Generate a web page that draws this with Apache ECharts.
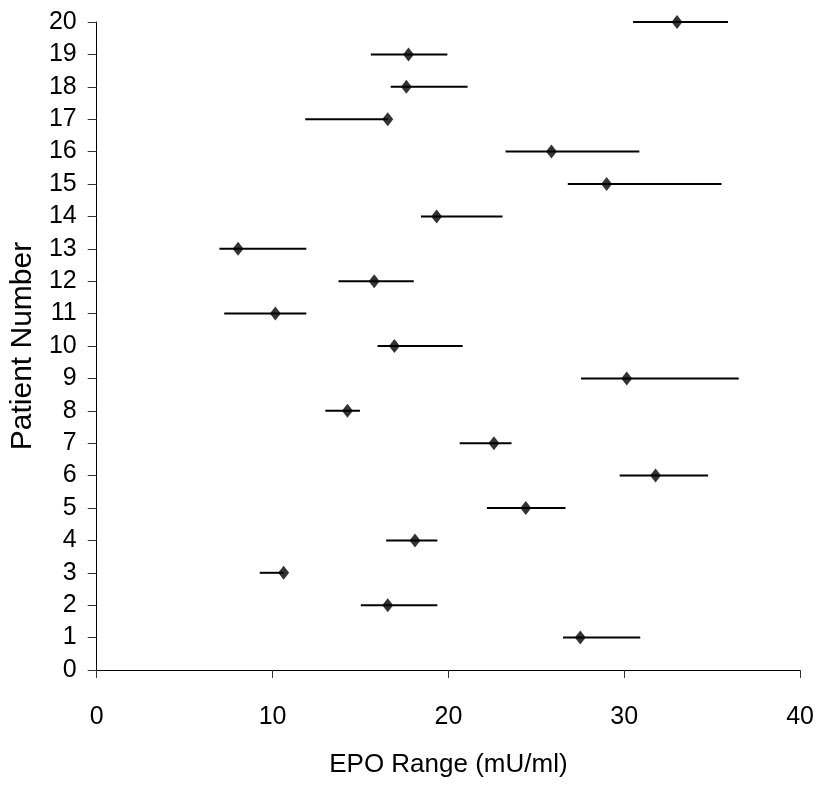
<!DOCTYPE html>
<html>
<head>
<meta charset="utf-8">
<script src="https://cdn.jsdelivr.net/npm/echarts@6/dist/echarts.min.js"></script>
<style>
html,body{margin:0;padding:0;background:#fff;}
#chart{width:817px;height:789px;}
</style>
</head>
<body>
<div id="chart"></div>
<script>
var patients = [1,2,3,4,5,6,7,8,9,10,11,12,13,14,15,16,17,18,19,20];
var epoMean  = [27.5,16.55,10.63,18.1,24.4,31.78,22.59,14.26,30.14,16.93,10.16,15.78,8.04,19.33,29.0,25.86,16.55,17.61,17.73,33.0];
var epoLow   = [26.52,15.02,9.27,16.46,22.19,29.74,20.64,13.0,27.54,15.97,7.25,13.75,6.98,18.44,26.79,23.25,11.86,16.72,15.59,30.5];
var epoHigh  = [30.91,19.37,10.63,19.37,26.66,34.77,23.59,14.97,36.51,20.81,11.92,18.03,11.92,23.08,35.53,30.86,16.55,21.09,19.94,35.9];
var xTicks = {min: 0, max: 40, interval: 10};
var yTicks = {min: 0, max: 20, interval: 1};

var rangeData = patients.map(function (p, i) { return [epoLow[i], epoHigh[i], p]; });
var meanData = patients.map(function (p, i) { return [epoMean[i], p]; });

var FONT = "'Liberation Sans', Arial, sans-serif";
var chart = echarts.init(document.getElementById('chart'), null, {renderer: 'canvas'});
chart.setOption({
  animation: false,
  backgroundColor: '#ffffff',
  grid: {left: 96, top: 22, width: 705, height: 648, containLabel: false},
  xAxis: {
    type: 'value', min: xTicks.min, max: xTicks.max, interval: xTicks.interval,
    name: 'EPO Range (mU/ml)', nameLocation: 'middle', nameGap: 82,
    nameTextStyle: {fontFamily: FONT, fontSize: 26, color: '#000'},
    axisLine: {show: true, onZero: false, lineStyle: {color: '#000', width: 1}},
    axisTick: {show: true, length: 8, lineStyle: {color: '#333'}},
    axisLabel: {margin: 35, fontFamily: FONT, fontSize: 25, color: '#000'},
    splitLine: {show: false}
  },
  yAxis: {
    type: 'value', min: yTicks.min, max: yTicks.max, interval: yTicks.interval,
    name: 'Patient Number', nameLocation: 'middle', nameGap: 56, nameRotate: 90,
    nameTextStyle: {fontFamily: FONT, fontSize: 30, color: '#000'},
    axisLine: {show: true, onZero: false, lineStyle: {color: '#000', width: 1}},
    axisTick: {show: true, length: 9, lineStyle: {color: '#333'}},
    axisLabel: {margin: 20, fontFamily: FONT, fontSize: 25, color: '#000'},
    splitLine: {show: false}
  },
  series: [
    {
      type: 'custom',
      data: rangeData,
      encode: {x: [0, 1], y: 2},
      renderItem: function (params, api) {
        var a = api.coord([api.value(0), api.value(2)]);
        var b = api.coord([api.value(1), api.value(2)]);
        return {
          type: 'line',
          shape: {x1: a[0], y1: a[1], x2: b[0], y2: b[1]},
          style: {stroke: '#000', lineWidth: 2}
        };
      },
      z: 2
    },
    {
      type: 'scatter',
      data: meanData,
      symbol: 'diamond',
      symbolSize: [11, 14],
      itemStyle: {color: '#000'},
      z: 3
    }
  ]
});
</script>
</body>
</html>
